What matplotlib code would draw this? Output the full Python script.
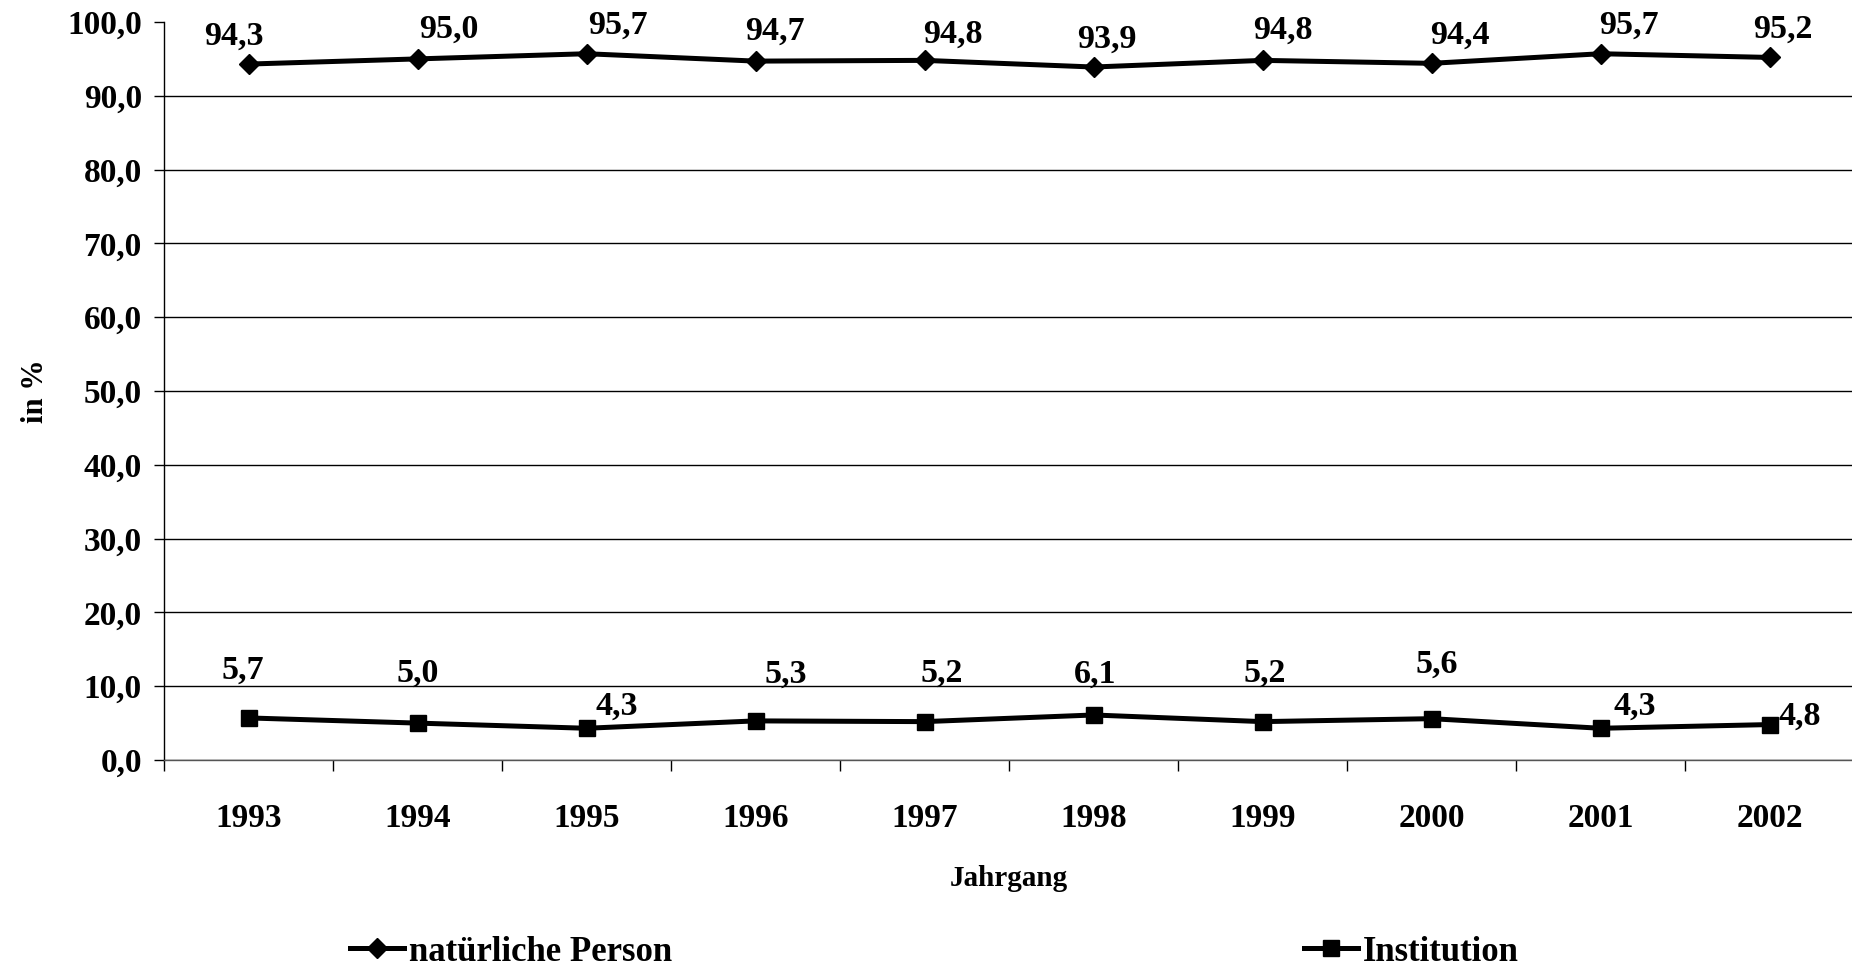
import matplotlib
matplotlib.use("Agg")
from matplotlib import pyplot as plt

years = ["1993", "1994", "1995", "1996", "1997", "1998", "1999", "2000", "2001", "2002"]
natuerliche = [94.3, 95.0, 95.7, 94.7, 94.8, 93.9, 94.8, 94.4, 95.7, 95.2]
institution = [5.7, 5.0, 4.3, 5.3, 5.2, 6.1, 5.2, 5.6, 4.3, 4.8]

# label offsets (pixels) as placed in the original chart
nat_off = [(-15, 28), (31, 30), (31, 28), (19, 30), (28, 26), (13, 28), (20, 30), (28, 28), (28, 28), (13, 28)]
inst_off = [(-6, 48), (0, 50), (30, 22), (30, 47), (17, 48), (2, 41), (2, 48), (5, 54), (34, 22), (30, 8)]

plt.rcParams['font.family'] = ['Liberation Serif', 'DejaVu Serif']
plt.rcParams['font.weight'] = 'bold'

fig = plt.figure(figsize=(18.52, 9.71), dpi=100)
ax = fig.add_axes([164 / 1852, 1 - 760 / 971, 1690 / 1852, 738 / 971])

x = list(range(1, len(years) + 1))
ax.plot(x, natuerliche, color='black', lw=3.6, marker='D', markersize=10, label='natürliche Person')
ax.plot(x, institution, color='black', lw=3.6, marker='s', markersize=11, label='Institution')

for xi, v, off in zip(x, natuerliche, nat_off):
    ax.annotate(f"{v:.1f}".replace('.', ','), (xi, v), xytext=off, textcoords='offset pixels',
                ha='center', va='center', fontsize=24.5, fontweight='bold')
for xi, v, off in zip(x, institution, inst_off):
    ax.annotate(f"{v:.1f}".replace('.', ','), (xi, v), xytext=off, textcoords='offset pixels',
                ha='center', va='center', fontsize=24.5, fontweight='bold')

ax.set_xlim(0.5, len(years) + 0.5)
ax.set_ylim(0, 100)
ax.set_yticks(range(0, 101, 10))
ax.set_yticklabels([f"{t},0" for t in range(0, 101, 10)], fontsize=24, fontweight='bold')
ax.tick_params(axis='y', direction='out', length=7, width=1, pad=9)

ax.set_xticks([i + 0.5 for i in range(0, len(years) + 1)])
ax.set_xticklabels([])
ax.set_xticks(x, minor=True)
ax.set_xticklabels(years, minor=True, fontsize=24, fontweight='bold')
ax.tick_params(axis='x', which='major', direction='out', length=8, width=1)
ax.tick_params(axis='x', which='minor', length=0, pad=31)

ax.grid(axis='y', color='black', lw=1)
ax.yaxis.get_gridlines()[-1].set_visible(False)
for s in ['top', 'right']:
    ax.spines[s].set_visible(False)
ax.spines['left'].set_linewidth(1)
ax.spines['bottom'].set_linewidth(1)
ax.spines['bottom'].set_color('#555555')

ax.set_xlabel("Jahrgang", fontsize=21, fontweight='bold', labelpad=22)
ax.set_ylabel("in %", fontsize=22, fontweight='bold', labelpad=12)

fig.legend(loc='center left', bbox_to_anchor=(350 / 1852, 1 - 952 / 971), ncol=2,
           frameon=False, handlelength=1.55, handletextpad=0.15,
           columnspacing=18.2, borderpad=0, borderaxespad=0, prop={'weight': 'bold', 'size': 25})

fig.savefig("out.png", dpi=100)
